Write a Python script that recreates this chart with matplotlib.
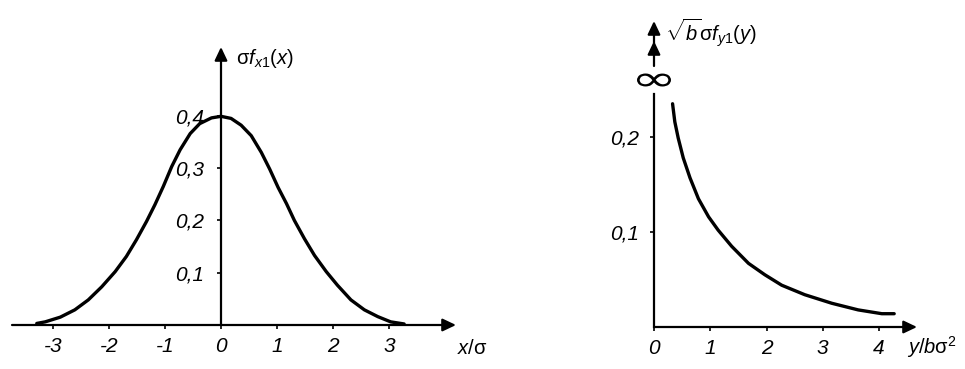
import matplotlib
matplotlib.use('Agg')
import matplotlib.pyplot as plt
from matplotlib.textpath import TextPath
from matplotlib.patches import PathPatch
from matplotlib.font_manager import FontProperties
from matplotlib.transforms import Affine2D

plt.rcParams['font.family'] = ['Liberation Sans', 'DejaVu Sans']
plt.rcParams['mathtext.fontset'] = 'custom'
plt.rcParams['mathtext.rm'] = 'Liberation Sans'
plt.rcParams['mathtext.it'] = 'Liberation Sans:italic'
plt.rcParams['mathtext.bf'] = 'Liberation Sans:bold'

# ---- data ----
gauss_x = [-3.29, -3.14, -2.87, -2.61, -2.37, -2.13, -1.89, -1.69, -1.51, -1.33, -1.18, -1.03,
           -0.88, -0.73, -0.55, -0.38, -0.17, 0.0, 0.18, 0.36, 0.54, 0.72, 0.87, 1.02, 1.17,
           1.31, 1.49, 1.67, 1.88, 2.08, 2.32, 2.56, 2.80, 3.03, 3.27]
gauss_y = [0.003, 0.006, 0.015, 0.029, 0.048, 0.073, 0.102, 0.131, 0.163, 0.198, 0.230, 0.265,
           0.303, 0.335, 0.366, 0.385, 0.396, 0.399, 0.395, 0.382, 0.362, 0.330, 0.298, 0.263,
           0.232, 0.200, 0.165, 0.133, 0.102, 0.076, 0.048, 0.029, 0.016, 0.006, 0.002]

chi_x = [0.33, 0.37, 0.43, 0.52, 0.64, 0.79, 0.97, 1.14, 1.38, 1.68, 1.97, 2.27, 2.68, 3.16,
         3.63, 4.05, 4.27]
chi_y = [0.235, 0.216, 0.199, 0.178, 0.157, 0.135, 0.116, 0.102, 0.085, 0.067, 0.055, 0.044,
         0.034, 0.025, 0.018, 0.014, 0.014]

left_xticks = [-3, -2, -1, 0, 1, 2, 3]
left_xticklabels = ['-3', '-2', '-1', '0', '1', '2', '3']
left_yticks = [0.1, 0.2, 0.3, 0.4]
left_yticklabels = ['0,1', '0,2', '0,3', '0,4']

right_xticks = [0, 1, 2, 3, 4]
right_xticklabels = ['0', '1', '2', '3', '4']
right_yticks = [0.1, 0.2]
right_yticklabels = ['0,1', '0,2']

W, H = 965, 369
fig = plt.figure(figsize=(W / 100, H / 100), dpi=100)

TICKFONT = dict(style='italic', size=15)


def arrow(ax, start, tip, hl=0.8, hw=0.38):
    ax.annotate('', xy=tip, xytext=start,
                arrowprops=dict(arrowstyle=f'-|>,head_length={hl},head_width={hw}',
                                lw=1.6, color='black', mutation_scale=10,
                                shrinkA=0, shrinkB=0))


def setup(ax):
    for s in ['top', 'right']:
        ax.spines[s].set_visible(False)
    for s in ['left', 'bottom']:
        ax.spines[s].set_position(('data', 0))
        ax.spines[s].set_color('none')
    ax.tick_params(direction='out', length=3, width=1.2, colors='black')
    ax.patch.set_alpha(0)


# ---------------- left panel ----------------
axL = fig.add_axes([0, 0, 490 / W, 1])
axL.set_xlim((0 - 221) / 56, (490 - 221) / 56)
axL.set_ylim((325 - 369) / 523, 325 / 523)
setup(axL)
axL.plot(gauss_x, gauss_y, color='black', lw=2.4, solid_capstyle='round',
         solid_joinstyle='round')
arrow(axL, ((12 - 221) / 56, 0), ((456 - 221) / 56, 0))
arrow(axL, (0, 0), (0, (325 - 47) / 523))
axL.set_xticks(left_xticks)
axL.set_xticklabels(left_xticklabels, **TICKFONT)
axL.set_yticks(left_yticks)
axL.set_yticklabels(left_yticklabels, **TICKFONT)
axL.tick_params(axis='x', pad=6)
axL.tick_params(axis='y', pad=9)
axL.text((236 - 221) / 56, (325 - 58) / 523, r'$\mathrm{\sigma}\mathit{f}_{x1}\mathit{(x)}$',
         fontsize=14.5, ha='left', va='center')
axL.text((457 - 221) / 56, (325 - 348) / 523, r'$\mathit{x/}\mathrm{\sigma}$',
         fontsize=14.5, ha='left', va='center')

# ---------------- right panel ----------------
axR = fig.add_axes([560 / W, 0, 405 / W, 1])
axR.set_xlim((560 - 654) / 56.25, (965 - 654) / 56.25)
axR.set_ylim((327 - 369) / 950, 327 / 950)
setup(axR)
axR.plot(chi_x, chi_y, color='black', lw=2.4, solid_capstyle='round',
         solid_joinstyle='round')
arrow(axR, (0, 0), ((917 - 654) / 56.25, 0))
axR.plot([0, 0], [0, (327 - 94) / 950], color='black', lw=1.6)
arrow(axR, (0, (327 - 66) / 950), (0, (327 - 41) / 950))
arrow(axR, (0, (327 - 43) / 950), (0, (327 - 21) / 950))
axR.set_xticks(right_xticks)
axR.set_xticklabels(right_xticklabels, **TICKFONT)
axR.set_yticks(right_yticks)
axR.set_yticklabels(right_yticklabels, **TICKFONT)
axR.tick_params(axis='x', pad=6)
axR.tick_params(axis='y', pad=8)
axR.text((665 - 654) / 56.25, (327 - 33) / 950,
         r'$\sqrt{\mathit{b}}\mathrm{\sigma}\mathit{f}_{y1}\mathit{(y)}$',
         fontsize=14.5, ha='left', va='center')
axR.text((907 - 654) / 56.25, (327 - 347) / 950, r'$\mathit{y/b}\mathrm{\sigma}^{2}$',
         fontsize=14.5, ha='left', va='center')

# wide, flat infinity sign above the y axis of the right panel
tp = TextPath((0, 0), '\u221e', size=20, prop=FontProperties(family='DejaVu Sans'))
ext = tp.get_extents()
sx = 34 / ext.width
sy = 13 / ext.height
tr = (Affine2D().translate(-(ext.x0 + ext.width / 2), -(ext.y0 + ext.height / 2))
      .scale(sx, sy)
      .translate(0, 0))
# place at the data position above the axis
cx, cy = axR.transData.transform((0, (327 - 80) / 950))
tr = tr.translate(cx, cy)
fig.add_artist(PathPatch(tp, transform=tr, color='black', lw=0))

fig.savefig('out.png', dpi=100)
